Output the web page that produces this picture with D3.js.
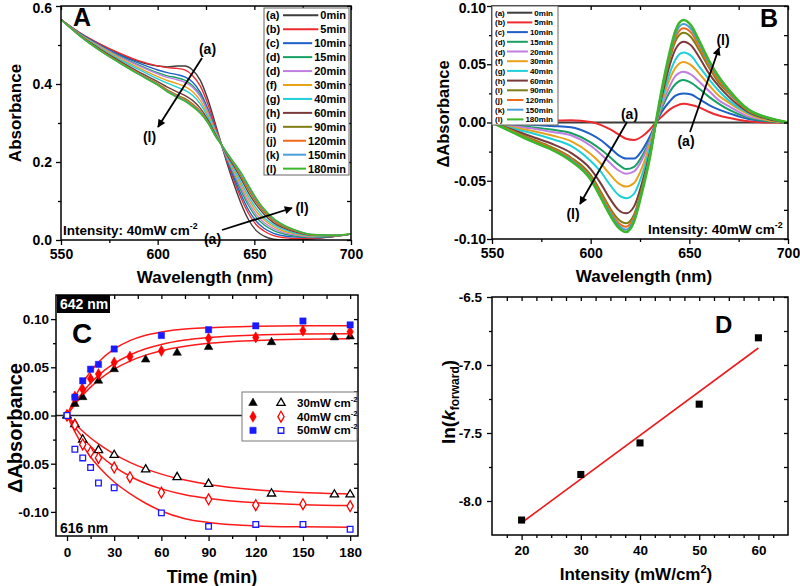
<!DOCTYPE html>
<html><head><meta charset="utf-8">
<script src="https://cdn.jsdelivr.net/npm/d3@7"></script>
<style>
body{margin:0;background:#fff;}
svg{display:block;}
text{font-family:"Liberation Sans",Arial,Helvetica,sans-serif;font-weight:bold;fill:#000;}
</style></head><body>
<svg id="chart" width="800" height="586"></svg>
<script>
// ---------------- DATA ----------------
const timeLabels = ["0min","5min","10min","15min","20min","30min","40min","60min","90min","120min","150min","180min"];
const seriesLetters = ["(a)","(b)","(c)","(d)","(d)","(f)","(g)","(h)","(i)","(j)","(k)","(l)"];
const seriesColors = ["#3d3d3d","#ee2a2e","#1f5fc8","#16a063","#bf7fe0","#eaa11a","#1fd0d8","#7a3a3c","#7e7e14","#f06a1c","#4a9fd9","#3cb62a"];

const wavelengths = [550,560,570,580,590,600,605,610,614,618,622,626,630,633,636,640,643,647,651,655,660,665,670,680,690,700];

// Panel A: absorbance spectra
const absA_0   = [0.565,0.530,0.502,0.478,0.458,0.446,0.444,0.446,0.446,0.436,0.410,0.360,0.295,0.245,0.195,0.135,0.095,0.052,0.024,0.010,0.002,0.000,0.000,0.003,0.008,0.015];
const absA_5   = [0.565,0.5305,0.503,0.4795,0.460,0.4465,0.442,0.440,0.436,0.422,0.395,0.348,0.289,0.245,0.200,0.146,0.109,0.068,0.039,0.023,0.011,0.006,0.004,0.004,0.008,0.015];
const absA_10  = [0.565,0.529,0.500,0.475,0.454,0.436,0.429,0.424,0.418,0.405,0.379,0.336,0.283,0.244,0.204,0.153,0.118,0.077,0.048,0.030,0.017,0.011,0.008,0.006,0.009,0.015];
const absA_15  = [0.565,0.528,0.498,0.472,0.449,0.429,0.421,0.416,0.410,0.396,0.372,0.331,0.280,0.244,0.207,0.161,0.128,0.0885,0.058,0.039,0.024,0.016,0.011,0.007,0.009,0.015];
const absA_20  = [0.565,0.527,0.497,0.470,0.447,0.426,0.417,0.411,0.405,0.392,0.368,0.328,0.279,0.244,0.209,0.166,0.135,0.0956,0.065,0.045,0.029,0.019,0.014,0.008,0.010,0.015];
const absA_30  = [0.565,0.526,0.495,0.467,0.442,0.419,0.409,0.401,0.394,0.381,0.358,0.321,0.276,0.244,0.212,0.172,0.142,0.104,0.073,0.052,0.034,0.023,0.017,0.010,0.010,0.015];
const absA_40  = [0.565,0.525,0.493,0.464,0.438,0.413,0.402,0.392,0.384,0.371,0.349,0.315,0.273,0.244,0.214,0.177,0.149,0.112,0.081,0.058,0.039,0.027,0.019,0.011,0.011,0.015];
const absA_60  = [0.565,0.524,0.490,0.460,0.432,0.406,0.392,0.380,0.371,0.358,0.338,0.308,0.269,0.244,0.217,0.184,0.158,0.121,0.090,0.066,0.044,0.031,0.022,0.012,0.011,0.015];
const absA_90  = [0.565,0.523,0.488,0.457,0.428,0.401,0.385,0.372,0.363,0.3495,0.331,0.304,0.267,0.244,0.220,0.189,0.165,0.129,0.097,0.072,0.049,0.034,0.025,0.013,0.012,0.015];
const absA_120 = [0.565,0.523,0.487,0.456,0.427,0.399,0.383,0.370,0.360,0.3466,0.329,0.302,0.266,0.244,0.221,0.191,0.168,0.133,0.101,0.075,0.051,0.036,0.026,0.013,0.012,0.015];
const absA_150 = [0.565,0.522,0.486,0.455,0.426,0.398,0.381,0.368,0.358,0.344,0.327,0.301,0.266,0.244,0.222,0.193,0.171,0.1365,0.104,0.078,0.053,0.038,0.027,0.014,0.012,0.015];
const absA_180 = [0.565,0.522,0.486,0.455,0.425,0.397,0.380,0.366,0.356,0.342,0.325,0.300,0.265,0.245,0.223,0.195,0.174,0.140,0.107,0.080,0.055,0.039,0.028,0.014,0.012,0.016];

// Panel B: difference spectra
const dA_0   = [0,0,0,0,0,0,0,0,0,0,0,0,0,0,0,0,0,0,0,0,0,0,0,0,0,0];
const dA_5   = [0,0.0005,0.001,0.0015,0.002,0.0005,-0.002,-0.006,-0.010,-0.014,-0.015,-0.012,-0.006,0,0.005,0.011,0.014,0.016,0.015,0.013,0.009,0.006,0.004,0.001,0,0];
const dA_10  = [0,-0.001,-0.002,-0.003,-0.004,-0.010,-0.015,-0.022,-0.028,-0.031,-0.031,-0.024,-0.012,-0.001,0.009,0.018,0.023,0.025,0.024,0.020,0.015,0.011,0.008,0.003,0.001,0];
const dA_15  = [0,-0.002,-0.004,-0.006,-0.009,-0.017,-0.023,-0.030,-0.036,-0.040,-0.038,-0.029,-0.015,-0.001,0.012,0.026,0.033,0.0365,0.034,0.029,0.022,0.016,0.011,0.004,0.001,0];
const dA_20  = [0,-0.003,-0.005,-0.008,-0.011,-0.020,-0.027,-0.035,-0.041,-0.044,-0.042,-0.032,-0.016,-0.001,0.014,0.031,0.040,0.0436,0.041,0.035,0.027,0.019,0.014,0.005,0.002,0];
const dA_30  = [0,-0.004,-0.007,-0.011,-0.016,-0.027,-0.035,-0.045,-0.052,-0.055,-0.052,-0.039,-0.019,-0.001,0.017,0.037,0.047,0.052,0.049,0.042,0.032,0.023,0.017,0.007,0.002,0];
const dA_40  = [0,-0.005,-0.009,-0.014,-0.020,-0.033,-0.042,-0.054,-0.062,-0.065,-0.061,-0.045,-0.022,-0.001,0.019,0.042,0.054,0.060,0.057,0.048,0.037,0.027,0.019,0.008,0.003,0];
const dA_60  = [0,-0.006,-0.012,-0.018,-0.026,-0.040,-0.052,-0.066,-0.075,-0.078,-0.072,-0.052,-0.026,-0.001,0.022,0.049,0.063,0.0694,0.066,0.056,0.042,0.031,0.022,0.009,0.003,0];
const dA_90  = [0,-0.007,-0.014,-0.021,-0.030,-0.045,-0.059,-0.074,-0.083,-0.0865,-0.079,-0.056,-0.028,-0.001,0.025,0.054,0.070,0.077,0.073,0.062,0.047,0.034,0.025,0.010,0.004,0];
const dA_120 = [0,-0.007,-0.015,-0.022,-0.031,-0.047,-0.061,-0.076,-0.086,-0.0894,-0.081,-0.058,-0.029,-0.001,0.026,0.056,0.073,0.081,0.077,0.065,0.049,0.036,0.026,0.010,0.004,0];
const dA_150 = [0,-0.008,-0.016,-0.023,-0.032,-0.048,-0.063,-0.078,-0.088,-0.092,-0.083,-0.059,-0.029,-0.001,0.027,0.058,0.076,0.0845,0.080,0.068,0.051,0.038,0.027,0.011,0.004,0];
const dA_180 = [0,-0.008,-0.016,-0.023,-0.033,-0.049,-0.064,-0.080,-0.090,-0.094,-0.085,-0.060,-0.030,0,0.028,0.060,0.079,0.088,0.083,0.070,0.053,0.039,0.028,0.011,0.004,0];

// Panel C: kinetics
const kinTimes30 = [0,5,10,20,30,50,70,90,130,170,180];
const up30   = [0,0.012,0.019,0.036,0.048,0.058,0.065,0.071,0.076,0.081,0.082];
const down30 = [0,-0.009,-0.025,-0.036,-0.041,-0.056,-0.064,-0.071,-0.081,-0.082,-0.082];
const kinTimes40 = [0,5,10,15,20,30,40,60,90,120,150,180];
const up40   = [0,0.0197,0.027,0.038,0.043,0.055,0.061,0.067,0.080,0.081,0.088,0.087];
const down40 = [0,-0.010,-0.030,-0.038,-0.044,-0.054,-0.064,-0.080,-0.087,-0.093,-0.092,-0.094];
const kinTimes50 = [0,5,10,15,20,30,60,90,120,150,180];
const up50   = [0,0.019,0.036,0.048,0.053,0.069,0.083,0.089,0.093,0.098,0.094];
const down50 = [0,-0.035,-0.044,-0.054,-0.070,-0.075,-0.101,-0.115,-0.113,-0.113,-0.118];
const fitTimes = [0,5,10,15,20,30,40,50,60,75,90,120,150,180];
const fitUp30   = [0,0.0113,0.021,0.0294,0.0366,0.048,0.0564,0.0626,0.0672,0.0718,0.0749,0.0779,0.0792,0.0797];
const fitUp40   = [0,0.0132,0.0242,0.0336,0.0416,0.054,0.0628,0.0692,0.0737,0.0782,0.0809,0.0835,0.0845,0.0848];
const fitUp50   = [0,0.0187,0.0337,0.0457,0.0552,0.069,0.0777,0.0832,0.0867,0.0898,0.0909,0.0926,0.093,0.093];
const fitDown30 = [0,-0.0086,-0.0164,-0.0233,-0.0295,-0.040,-0.0486,-0.0554,-0.0608,-0.067,-0.0716,-0.0771,-0.0799,-0.0814];
const fitDown40 = [0,-0.0121,-0.0228,-0.032,-0.040,-0.053,-0.063,-0.0705,-0.0761,-0.0822,-0.0862,-0.0906,-0.0925,-0.0934];
const fitDown50 = [0,-0.017,-0.031,-0.043,-0.053,-0.069,-0.081,-0.091,-0.099,-0.107,-0.111,-0.1145,-0.1155,-0.116];
const kinLegend = ["30mW cm","40mW cm","50mW cm"];

// Panel D
const intensity = [20,30,40,50,60];
const lnK = [-8.14,-7.805,-7.573,-7.288,-6.80];
const fitLineX = [20,60];
const fitLineY = [-8.16,-6.875];

// ---------------- DRAW ----------------
const svg = d3.select("#chart");
const hy = s => String(s).replace(/\u2212/g,"-");

const defs = svg.append("defs");
defs.append("marker").attr("id","arrow").attr("viewBox","0 0 10 10").attr("refX",9).attr("refY",5)
  .attr("markerWidth",10).attr("markerHeight",8).attr("markerUnits","userSpaceOnUse").attr("orient","auto")
  .append("path").attr("d","M0,0 L10,5 L0,10 Z").attr("fill","#000");

function clip(id, x, y) {
  const [x0,x1] = x.range(), [yb,yt] = y.range();
  defs.append("clipPath").attr("id",id).append("rect").attr("x",x0).attr("y",yt).attr("width",x1-x0).attr("height",yb-yt);
}

function styleAxis(sel, fs) {
  sel.select(".domain").remove();
  sel.selectAll(".tick line").attr("stroke","#000").attr("stroke-width",1.3);
  sel.selectAll(".tick text").attr("font-size",fs).style("font-family",'"Liberation Sans",Arial,sans-serif').style("font-weight","bold").attr("fill","#000");
}

function frame(svg, x, y, c) {
  const [x0,x1] = x.range(), [yb,yt] = y.range();
  const g = svg.append("g");
  g.append("g").attr("transform",`translate(0,${yb})`).call(d3.axisBottom(x).tickValues(c.xMaj).tickSize(5).tickSizeOuter(0).tickPadding(c.xPad).tickFormat(c.xFmt)).call(s=>styleAxis(s,c.fs));
  g.append("g").attr("transform",`translate(0,${yb})`).call(d3.axisBottom(x).tickValues(c.xMin).tickSize(3).tickSizeOuter(0).tickFormat("")).call(s=>styleAxis(s,c.fs));
  g.append("g").attr("transform",`translate(0,${yt})`).call(d3.axisTop(x).tickValues(c.xMaj.concat(c.xMin)).tickSize(-4).tickSizeOuter(0).tickFormat("")).call(s=>styleAxis(s,c.fs));
  const left = g.append("g").attr("transform",`translate(${x0},0)`).call(d3.axisLeft(y).tickValues(c.yMaj).tickSize(5).tickSizeOuter(0).tickPadding(c.yPad).tickFormat(c.yFmt)).call(s=>styleAxis(s,c.fs));
  if (c.topNudge) left.selectAll(".tick text").filter(d=>d===c.yMaj[c.yMaj.length-1]).attr("transform",`translate(0,${c.topNudge})`);
  g.append("g").attr("transform",`translate(${x0},0)`).call(d3.axisLeft(y).tickValues(c.yMin).tickSize(3).tickSizeOuter(0).tickFormat("")).call(s=>styleAxis(s,c.fs));
  g.append("g").attr("transform",`translate(${x1},0)`).call(d3.axisRight(y).tickValues(c.yMaj.concat(c.yMin)).tickSize(-4).tickSizeOuter(0).tickFormat("")).call(s=>styleAxis(s,c.fs));
  g.append("rect").attr("x",x0).attr("y",yt).attr("width",x1-x0).attr("height",yb-yt).attr("fill","none").attr("stroke","#000").attr("stroke-width",1.5);
}

function label(svg, x, y, txt, fs, anchor) {
  return svg.append("text").attr("x",x).attr("y",y).attr("font-size",fs).attr("text-anchor",anchor||"start").text(txt);
}
function supText(svg, x, y, base, sup, fs, anchor) {
  const t = svg.append("text").attr("x",x).attr("y",y).attr("font-size",fs).attr("text-anchor",anchor||"start");
  t.append("tspan").text(base);
  t.append("tspan").attr("dy",-fs*0.45).attr("font-size",fs*0.65).text(sup);
  return t;
}
function arrow(svg, x1,y1,x2,y2) {
  svg.append("line").attr("x1",x1).attr("y1",y1).attr("x2",x2).attr("y2",y2).attr("stroke","#000").attr("stroke-width",1.8).attr("marker-end","url(#arrow)");
}

// ===== Panel A =====
const seriesA = [absA_0,absA_5,absA_10,absA_15,absA_20,absA_30,absA_40,absA_60,absA_90,absA_120,absA_150,absA_180];
const xA = d3.scaleLinear().domain([550,700]).range([61,351]);
const yA = d3.scaleLinear().domain([0,0.6]).range([240,6]);
clip("clipA", xA, yA);
const gA = svg.append("g").attr("clip-path","url(#clipA)");
const lineA = d3.line().x((d,i)=>xA(wavelengths[i])).y(d=>yA(d)).curve(d3.curveMonotoneX);
seriesA.forEach((s,i)=>gA.append("path").attr("d",lineA(s)).attr("fill","none").attr("stroke",seriesColors[i]).attr("stroke-width",1.4));
frame(svg, xA, yA, {xMaj:[550,600,650,700], xMin:[575,625,675], yMaj:[0,0.2,0.4,0.6], yMin:[0.1,0.3,0.5],
  xFmt:d3.format("d"), yFmt:d=>hy(d3.format(".1f")(d)), xPad:4, yPad:4, fs:14, topNudge:2.5});
label(svg, 0, 0, "Absorbance", 17, "middle").attr("transform","translate(21,113) rotate(-90)");
label(svg, 205, 283, "Wavelength (nm)", 17, "middle");
label(svg, 73, 26, "A", 25);
supText(svg, 63, 235, "Intensity: 40mW cm", "-2", 13.5);
svg.append("rect").attr("x",264).attr("y",8).attr("width",85).attr("height",167).attr("fill","#fff").attr("stroke","#666").attr("stroke-width",1);
timeLabels.forEach((t,i)=>{
  const yy = 15.3 + i*13.94;
  label(svg, 266, yy+4, seriesLetters[i], 11);
  const tt = label(svg, 346, yy+4, t, 11, "end");
  const w = tt.node().getComputedTextLength();
  svg.append("line").attr("x1",283).attr("x2",346-w-2).attr("y1",yy).attr("y2",yy).attr("stroke",seriesColors[i]).attr("stroke-width",2);
});
label(svg, 207.5, 54, "(a)", 14, "middle");
arrow(svg, 202, 58, 158, 127);
label(svg, 149.5, 142, "(l)", 14, "middle");
label(svg, 212.5, 244, "(a)", 14, "middle");
arrow(svg, 222, 230, 292, 208);
label(svg, 302, 213, "(l)", 14, "middle");

// ===== Panel B =====
const seriesB = [dA_0,dA_5,dA_10,dA_15,dA_20,dA_30,dA_40,dA_60,dA_90,dA_120,dA_150,dA_180];
const xB = d3.scaleLinear().domain([550,700]).range([492,788]);
const yB = d3.scaleLinear().domain([-0.1,0.1]).range([239,6]);
clip("clipB", xB, yB);
const gB = svg.append("g").attr("clip-path","url(#clipB)");
const lineB = d3.line().x((d,i)=>xB(wavelengths[i])).y(d=>yB(d)).curve(d3.curveMonotoneX);
seriesB.forEach((s,i)=>gB.append("path").attr("d",lineB(s)).attr("fill","none").attr("stroke",seriesColors[i]).attr("stroke-width",i===11?2.6:2));
frame(svg, xB, yB, {xMaj:[550,600,650,700], xMin:[575,625,675], yMaj:[-0.1,-0.05,0,0.05,0.1], yMin:[-0.075,-0.025,0.025,0.075],
  xFmt:d3.format("d"), yFmt:d=>hy(d3.format(".2f")(d)), xPad:4, yPad:1, fs:14, topNudge:2.5});
label(svg, 0, 0, "\u0394Absorbance", 16.5, "middle").attr("transform","translate(449,114) rotate(-90)");
label(svg, 644, 282, "Wavelength (nm)", 17, "middle");
label(svg, 760, 27, "B", 25);
supText(svg, 648, 234, "Intensity: 40mW cm", "-2", 13.5);
svg.append("rect").attr("x",492).attr("y",6).attr("width",66).attr("height",119).attr("fill","#fff").attr("stroke","#666").attr("stroke-width",1);
timeLabels.forEach((t,i)=>{
  const yy = 12.7 + i*9.7;
  label(svg, 495, yy+3, seriesLetters[i], 8);
  const tt = label(svg, 553, yy+3, t, 8, "end");
  const w = tt.node().getComputedTextLength();
  svg.append("line").attr("x1",507).attr("x2",553-w-2).attr("y1",yy).attr("y2",yy).attr("stroke",seriesColors[i]).attr("stroke-width",2);
});
label(svg, 629.5, 118.5, "(a)", 14, "middle");
arrow(svg, 627, 122, 580, 204);
label(svg, 573, 219, "(l)", 14, "middle");
label(svg, 686, 146, "(a)", 14, "middle");
arrow(svg, 690, 132, 719, 48);
label(svg, 723, 45, "(l)", 14, "middle");

// ===== Panel C =====
const xC = d3.scaleLinear().domain([-7,185]).range([56,358]);
const yC = d3.scaleLinear().domain([-0.125,0.125]).range([536,295]);
clip("clipC", xC, yC);
const gC = svg.append("g").attr("clip-path","url(#clipC)");
gC.append("line").attr("x1",xC(-7)).attr("x2",xC(185)).attr("y1",yC(0)).attr("y2",yC(0)).attr("stroke","#222").attr("stroke-width",1.5);
const lineC = d3.line().x((d,i)=>xC(fitTimes[i])).y(d=>yC(d)).curve(d3.curveMonotoneX);
[fitUp30,fitUp40,fitUp50,fitDown30,fitDown40,fitDown50].forEach(s=>gC.append("path").attr("d",lineC(s)).attr("fill","none").attr("stroke","#ff1a1a").attr("stroke-width",1.5));
const kinSets = [
  {t:kinTimes30, v:up30, sym:d3.symbolTriangle, size:32, col:"#000", filled:true},
  {t:kinTimes40, v:up40, sym:d3.symbolDiamond, size:36, col:"#ff0000", filled:true},
  {t:kinTimes50, v:up50, sym:d3.symbolSquare, size:40, col:"#1a1aff", filled:true},
  {t:kinTimes30, v:down30, sym:d3.symbolTriangle, size:30, col:"#000", filled:false},
  {t:kinTimes40, v:down40, sym:d3.symbolDiamond, size:34, col:"#ff0000", filled:false},
  {t:kinTimes50, v:down50, sym:d3.symbolSquare, size:32, col:"#1a1aff", filled:false}
];
kinSets.forEach(k=>{
  k.v.forEach((v,i)=>{
    gC.append("path").attr("d",d3.symbol().type(k.sym).size(k.size)())
      .attr("transform",`translate(${xC(k.t[i])},${yC(v)})`)
      .attr("fill",k.filled?k.col:"#fff").attr("stroke",k.col).attr("stroke-width",k.filled?0.5:1.3);
  });
});
frame(svg, xC, yC, {xMaj:[0,30,60,90,120,150,180], xMin:[15,45,75,105,135,165], yMaj:[-0.1,-0.05,0,0.05,0.1], yMin:[-0.075,-0.025,0.025,0.075],
  xFmt:d3.format("d"), yFmt:d=>hy(d3.format(".2f")(d)), xPad:6, yPad:2, fs:13.5});
label(svg, 0, 0, "\u0394Absorbance", 20, "middle").attr("transform","translate(22,428) rotate(-90)");
label(svg, 212, 583, "Time (min)", 18, "middle");
label(svg, 72, 343, "C", 28);
svg.append("rect").attr("x",57).attr("y",295).attr("width",53).attr("height",18).attr("fill","#000");
label(svg, 60, 309, "642 nm", 14).style("fill","#fff");
label(svg, 60, 533, "616 nm", 14);
svg.append("rect").attr("x",242).attr("y",392).attr("width",115).attr("height",49).attr("fill","#fff").attr("stroke","#777").attr("stroke-width",1);
kinLegend.forEach((t,i)=>{
  const yy = 403 + i*13.7;
  const a = kinSets[i], b = kinSets[i+3];
  svg.append("path").attr("d",d3.symbol().type(a.sym).size(a.size)()).attr("transform",`translate(253,${yy})`).attr("fill",a.col).attr("stroke",a.col).attr("stroke-width",0.5);
  svg.append("path").attr("d",d3.symbol().type(b.sym).size(b.size)()).attr("transform",`translate(281,${yy})`).attr("fill","#fff").attr("stroke",b.col).attr("stroke-width",1.3);
  supText(svg, 297, yy+4, t, "-2", 11.5);
});

// ===== Panel D =====
const xD = d3.scaleLinear().domain([15,65]).range([492,788]);
const yD = d3.scaleLinear().domain([-8.25,-6.5]).range([535,297]);
svg.append("line").attr("x1",xD(fitLineX[0])).attr("y1",yD(fitLineY[0])).attr("x2",xD(fitLineX[1])).attr("y2",yD(fitLineY[1])).attr("stroke","#ee1c1c").attr("stroke-width",1.6);
intensity.forEach((v,i)=>{
  svg.append("path").attr("d",d3.symbol().type(d3.symbolSquare).size(50)()).attr("transform",`translate(${xD(v)},${yD(lnK[i])})`).attr("fill","#000");
});
frame(svg, xD, yD, {xMaj:[20,30,40,50,60], xMin:[17.5,22.5,25,27.5,32.5,35,37.5,42.5,45,47.5,52.5,55,57.5,62.5], yMaj:[-8,-7.5,-7,-6.5], yMin:[-7.75,-7.25,-6.75],
  xFmt:d3.format("d"), yFmt:d=>hy(d3.format(".1f")(d)), xPad:5, yPad:5, fs:13.5});
const tD = svg.append("text").attr("font-size",19).attr("text-anchor","middle").attr("transform","translate(455,402) rotate(-90)");
tD.append("tspan").text("ln(");
tD.append("tspan").attr("font-style","italic").text("k");
tD.append("tspan").attr("font-size",12).attr("dy",4).text("forward");
tD.append("tspan").attr("dy",-4).text(")");
const tX = svg.append("text").attr("x",636).attr("y",580).attr("font-size",17).attr("text-anchor","middle");
tX.append("tspan").text("Intensity (mW/cm");
tX.append("tspan").attr("font-size",11).attr("dy",-7).text("2");
tX.append("tspan").attr("dy",7).text(")");
label(svg, 715, 333, "D", 24);
</script>
</body></html>
